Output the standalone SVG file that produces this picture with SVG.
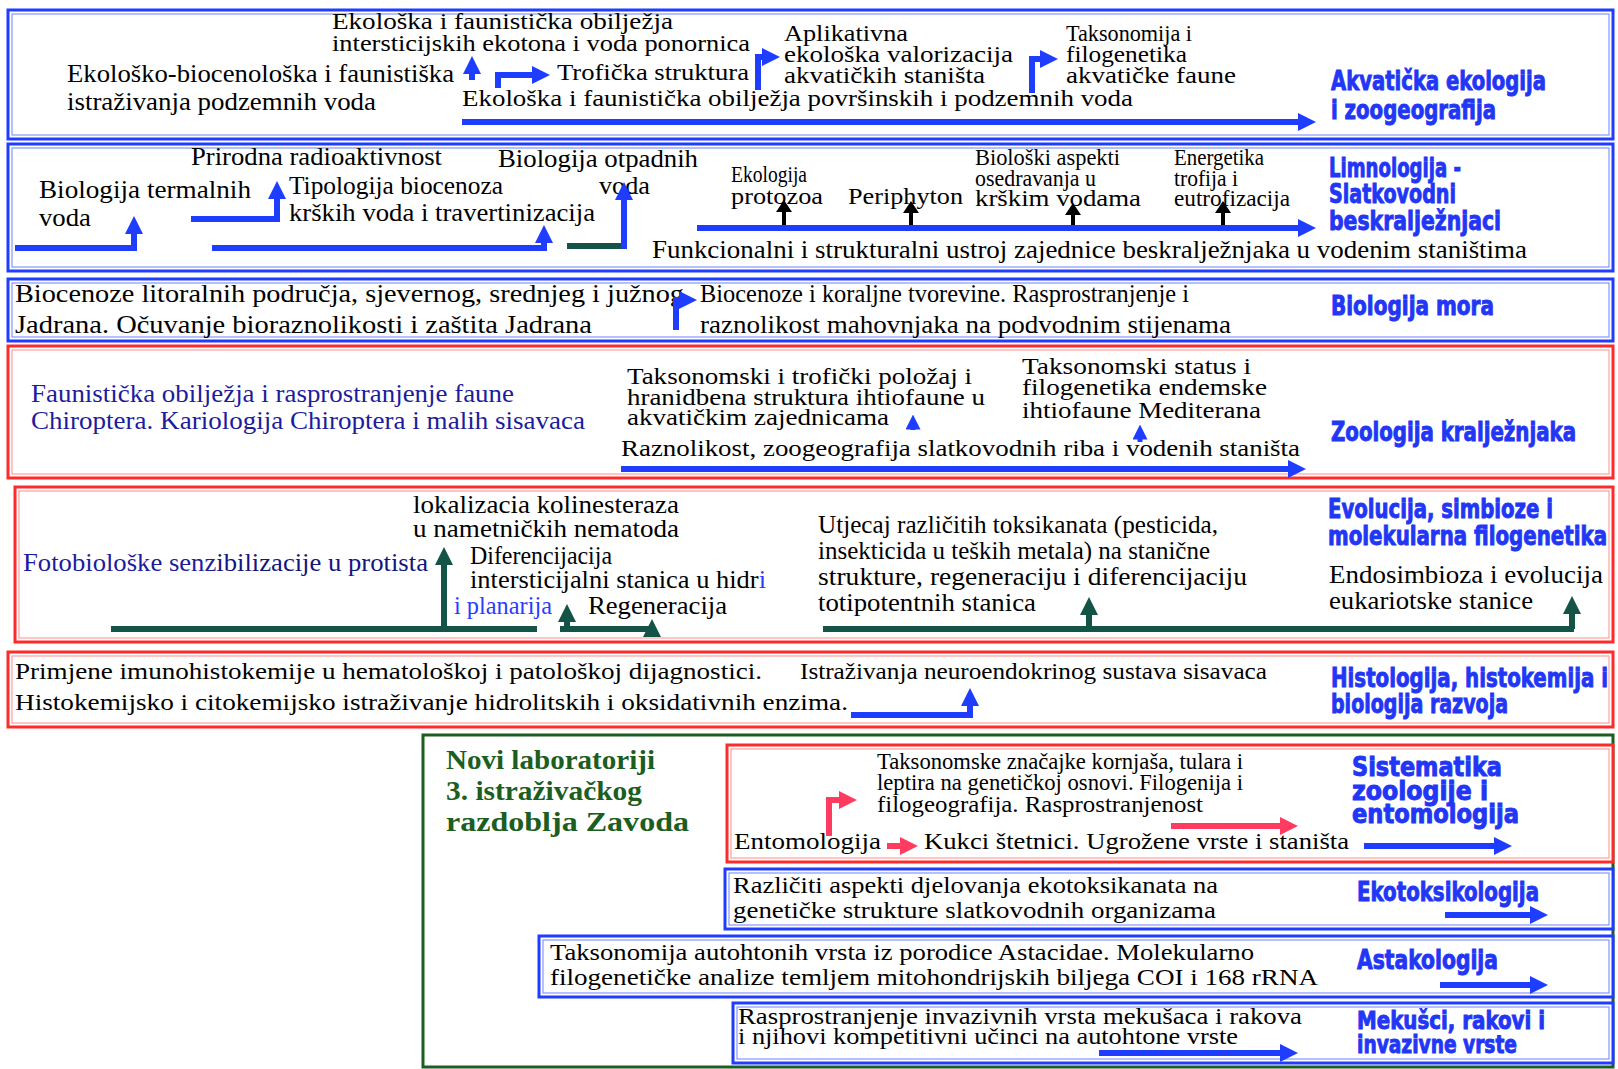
<svg xmlns="http://www.w3.org/2000/svg" width="1618" height="1069" viewBox="0 0 1618 1069">
<defs>
<style>
.t{font-family:"Liberation Serif","Times New Roman",serif;font-size:26px;fill:#000}
.s{font-size:24px}
.nv{fill:#1c1c9c}
.nv2{fill:#15157f}
.bl{fill:#2a3cff}
.h{font-family:"Liberation Sans Narrow","DejaVu Sans Condensed","Liberation Sans",sans-serif;font-weight:bold;font-size:27px;fill:#2236f5;stroke:#2236f5;stroke-width:0.9}
.g{font-family:"Liberation Serif","Times New Roman",serif;font-weight:bold;font-size:28px;fill:#1b5e20}
.bb{fill:#fff;stroke:#1f3dff;stroke-width:3}
.bi{fill:none;stroke:#8696ff;stroke-width:1.2}
.rb{fill:#fff;stroke:#ff2b2b;stroke-width:3}
.ri{fill:none;stroke:#ffa0a0;stroke-width:1.2}
.gb{fill:#fff;stroke:#1b5e20;stroke-width:3}
.ab{fill:none;stroke:#1f3dff;stroke-width:6;marker-end:url(#mb)}
.ag{fill:none;stroke:#135446;stroke-width:6;marker-end:url(#mg)}
.agn{fill:none;stroke:#135446;stroke-width:6}
.ar{fill:none;stroke:#ff3c5f;stroke-width:6;marker-end:url(#mr)}
.ak{fill:#000}
</style>
<marker id="mb" viewBox="0 0 3 3" markerWidth="3" markerHeight="3" refX="1.5" refY="1.5" orient="auto" markerUnits="strokeWidth"><path d="M0,0L3,1.5L0,3z" fill="#1f3dff"/></marker>
<marker id="mg" viewBox="0 0 3 3" markerWidth="3" markerHeight="3" refX="1.5" refY="1.5" orient="auto" markerUnits="strokeWidth"><path d="M0,0L3,1.5L0,3z" fill="#135446"/></marker>
<marker id="mr" viewBox="0 0 3 3" markerWidth="3" markerHeight="3" refX="1.5" refY="1.5" orient="auto" markerUnits="strokeWidth"><path d="M0,0L3,1.5L0,3z" fill="#ff3c5f"/></marker>
</defs>
<rect width="1618" height="1069" fill="#fff"/>

<g id="akvaticka">
<rect class="bb" x="8" y="10" width="1605" height="129"/>
<rect class="bi" x="12" y="14" width="1597" height="121"/>
<text class="t s" x="332" y="29" textLength="341" lengthAdjust="spacingAndGlyphs">Ekološka i faunistička obilježja</text>
<text class="t s" x="332" y="51" textLength="418" lengthAdjust="spacingAndGlyphs">intersticijskih ekotona i voda ponornica</text>
<text class="t" x="67" y="82" textLength="387" lengthAdjust="spacingAndGlyphs">Ekološko-biocenološka i faunistiška</text>
<text class="t" x="67" y="110" textLength="309" lengthAdjust="spacingAndGlyphs">istraživanja podzemnih voda</text>
<text class="t s" x="557" y="80" textLength="192" lengthAdjust="spacingAndGlyphs">Trofička struktura</text>
<text class="t s" x="784" y="41" textLength="124" lengthAdjust="spacingAndGlyphs">Aplikativna</text>
<text class="t s" x="784" y="62" textLength="229" lengthAdjust="spacingAndGlyphs">ekološka valorizacija</text>
<text class="t s" x="784" y="83" textLength="201" lengthAdjust="spacingAndGlyphs">akvatičkih staništa</text>
<text class="t s" x="1066" y="41" textLength="126" lengthAdjust="spacingAndGlyphs">Taksonomija i</text>
<text class="t s" x="1066" y="62" textLength="121" lengthAdjust="spacingAndGlyphs">filogenetika</text>
<text class="t s" x="1066" y="83" textLength="170" lengthAdjust="spacingAndGlyphs">akvatičke faune</text>
<text class="t s" x="462" y="106" textLength="671" lengthAdjust="spacingAndGlyphs">Ekološka i faunistička obilježja površinskih i podzemnih voda</text>
<text class="h" x="1331" y="90" textLength="215" lengthAdjust="spacingAndGlyphs">Akvatička ekologija</text>
<text class="h" x="1331" y="119" textLength="165" lengthAdjust="spacingAndGlyphs">i zoogeografija</text>
</g>

<g id="limnologija">
<rect class="bb" x="8" y="144" width="1605" height="127"/>
<rect class="bi" x="12" y="148" width="1597" height="119"/>
<text class="t" x="191" y="165" textLength="251" lengthAdjust="spacingAndGlyphs">Prirodna radioaktivnost</text>
<text class="t" x="498" y="167" textLength="200" lengthAdjust="spacingAndGlyphs">Biologija otpadnih</text>
<text class="t" x="599" y="194" textLength="51" lengthAdjust="spacingAndGlyphs">voda</text>
<text class="t" x="39" y="198" textLength="212" lengthAdjust="spacingAndGlyphs">Biologija termalnih</text>
<text class="t" x="39" y="226" textLength="52" lengthAdjust="spacingAndGlyphs">voda</text>
<text class="t" x="289" y="194" textLength="214" lengthAdjust="spacingAndGlyphs">Tipologija biocenoza</text>
<text class="t" x="289" y="221" textLength="306" lengthAdjust="spacingAndGlyphs">krških voda i travertinizacija</text>
<text class="t s" x="731" y="182" textLength="76" lengthAdjust="spacingAndGlyphs">Ekologija</text>
<text class="t s" x="731" y="204" textLength="92" lengthAdjust="spacingAndGlyphs">protozoa</text>
<text class="t s" x="848" y="204" textLength="115" lengthAdjust="spacingAndGlyphs">Periphyton</text>
<text class="t s" x="975" y="165" textLength="145" lengthAdjust="spacingAndGlyphs">Biološki aspekti</text>
<text class="t s" x="975" y="186" textLength="121" lengthAdjust="spacingAndGlyphs">osedravanja u</text>
<text class="t s" x="975" y="206" textLength="166" lengthAdjust="spacingAndGlyphs">krškim vodama</text>
<text class="t s" x="1174" y="165" textLength="90" lengthAdjust="spacingAndGlyphs">Energetika</text>
<text class="t s" x="1174" y="186" textLength="64" lengthAdjust="spacingAndGlyphs">trofija i</text>
<text class="t s" x="1174" y="206" textLength="116" lengthAdjust="spacingAndGlyphs">eutrofizacija</text>
<text class="t" x="652" y="258" textLength="875" lengthAdjust="spacingAndGlyphs">Funkcionalni i strukturalni ustroj zajednice beskralježnjaka u vodenim staništima</text>
<text class="h" x="1329" y="177" textLength="132" lengthAdjust="spacingAndGlyphs">Limnologija -</text>
<text class="h" x="1329" y="203" textLength="127" lengthAdjust="spacingAndGlyphs">Slatkovodni</text>
<text class="h" x="1329" y="230" textLength="172" lengthAdjust="spacingAndGlyphs">beskralježnjaci</text>
</g>

<g id="biologija-mora">
<rect class="bb" x="8" y="279" width="1605" height="62"/>
<rect class="bi" x="12" y="283" width="1597" height="54"/>
<text class="t" x="15" y="302" textLength="669" lengthAdjust="spacingAndGlyphs">Biocenoze litoralnih područja, sjevernog, srednjeg i južnog</text>
<text class="t" x="15" y="333" textLength="577" lengthAdjust="spacingAndGlyphs">Jadrana. Očuvanje bioraznolikosti i zaštita Jadrana</text>
<text class="t" x="700" y="302" textLength="489" lengthAdjust="spacingAndGlyphs">Biocenoze i koraljne tvorevine. Rasprostranjenje  i</text>
<text class="t" x="700" y="333" textLength="531" lengthAdjust="spacingAndGlyphs">raznolikost mahovnjaka na podvodnim stijenama</text>
<text class="h" x="1331" y="315" textLength="163" lengthAdjust="spacingAndGlyphs">Biologija mora</text>
</g>

<g id="zoologija-kraljeznjaka">
<rect class="rb" x="8" y="346" width="1605" height="132"/>
<rect class="ri" x="12" y="350" width="1597" height="124"/>
<text class="t nv" x="31" y="402" textLength="483" lengthAdjust="spacingAndGlyphs">Faunistička obilježja i rasprostranjenje faune</text>
<text class="t nv" x="31" y="429" textLength="554" lengthAdjust="spacingAndGlyphs">Chiroptera. Kariologija  Chiroptera i malih sisavaca</text>
<text class="t s" x="627" y="384" textLength="345" lengthAdjust="spacingAndGlyphs">Taksonomski i trofički položaj i</text>
<text class="t s" x="627" y="405" textLength="358" lengthAdjust="spacingAndGlyphs">hranidbena struktura ihtiofaune u</text>
<text class="t s" x="627" y="425" textLength="262" lengthAdjust="spacingAndGlyphs">akvatičkim zajednicama</text>
<text class="t s" x="1022" y="374" textLength="229" lengthAdjust="spacingAndGlyphs">Taksonomski status i</text>
<text class="t s" x="1022" y="395" textLength="245" lengthAdjust="spacingAndGlyphs">filogenetika endemske</text>
<text class="t s" x="1022" y="418" textLength="239" lengthAdjust="spacingAndGlyphs">ihtiofaune Mediterana</text>
<text class="t s" x="621" y="456" textLength="679" lengthAdjust="spacingAndGlyphs">Raznolikost, zoogeografija slatkovodnih riba i vodenih staništa</text>
<text class="h" x="1331" y="441" textLength="245" lengthAdjust="spacingAndGlyphs">Zoologija kralježnjaka</text>
</g>

<g id="evolucija">
<rect class="rb" x="15" y="487" width="1598" height="155"/>
<rect class="ri" x="19" y="491" width="1590" height="147"/>
<text class="t" x="413" y="513" textLength="266" lengthAdjust="spacingAndGlyphs">lokalizacia kolinesteraza</text>
<text class="t" x="413" y="537" textLength="266" lengthAdjust="spacingAndGlyphs">u nametničkih nematoda</text>
<text class="t" x="23" y="571" textLength="405" lengthAdjust="spacingAndGlyphs"><tspan class="nv">Fotobiološke senz</tspan><tspan class="nv2">ibilizacije u protista</tspan></text>
<text class="t" x="470" y="564" textLength="142" lengthAdjust="spacingAndGlyphs">Diferencijacija</text>
<text class="t" x="470" y="588" textLength="296" lengthAdjust="spacingAndGlyphs">intersticijalni stanica u hidr<tspan class="bl">i</tspan></text>
<text class="t bl" x="454" y="614" textLength="98" lengthAdjust="spacingAndGlyphs">i planarija</text>
<text class="t" x="588" y="614" textLength="139" lengthAdjust="spacingAndGlyphs">Regeneracija</text>
<text class="t" x="818" y="533" textLength="400" lengthAdjust="spacingAndGlyphs">Utjecaj različitih toksikanata (pesticida,</text>
<text class="t" x="818" y="559" textLength="392" lengthAdjust="spacingAndGlyphs">insekticida u teških metala) na stanične</text>
<text class="t" x="818" y="585" textLength="429" lengthAdjust="spacingAndGlyphs">strukture, regeneraciju i  diferencijaciju</text>
<text class="t" x="818" y="611" textLength="218" lengthAdjust="spacingAndGlyphs">totipotentnih stanica</text>
<text class="h" x="1328" y="518" textLength="225" lengthAdjust="spacingAndGlyphs">Evolucija, simbioze  i</text>
<text class="h" x="1328" y="545" textLength="279" lengthAdjust="spacingAndGlyphs">molekularna filogenetika</text>
<text class="t" x="1329" y="583" textLength="274" lengthAdjust="spacingAndGlyphs">Endosimbioza i evolucija</text>
<text class="t" x="1329" y="609" textLength="204" lengthAdjust="spacingAndGlyphs">eukariotske stanice</text>
</g>

<g id="histologija">
<rect class="rb" x="8" y="652" width="1605" height="75"/>
<rect class="ri" x="12" y="656" width="1597" height="67"/>
<text class="t s" x="15" y="679" textLength="747" lengthAdjust="spacingAndGlyphs">Primjene imunohistokemije u hematološkoj i patološkoj dijagnostici.</text>
<text class="t s" x="800" y="679" textLength="467" lengthAdjust="spacingAndGlyphs">Istraživanja neuroendokrinog sustava sisavaca</text>
<text class="t s" x="15" y="710" textLength="833" lengthAdjust="spacingAndGlyphs">Histokemijsko i citokemijsko istraživanje hidrolitskih i oksidativnih enzima.</text>
<text class="h" x="1331" y="687" textLength="277" lengthAdjust="spacingAndGlyphs">Histologija, histokemija i</text>
<text class="h" x="1331" y="713" textLength="177" lengthAdjust="spacingAndGlyphs">biologija razvoja</text>
</g>

<g id="novi-laboratoriji">
<rect class="gb" x="423" y="735" width="1190" height="332"/>
<text class="g" x="446" y="769" textLength="209" lengthAdjust="spacingAndGlyphs">Novi laboratoriji</text>
<text class="g" x="446" y="800" textLength="196" lengthAdjust="spacingAndGlyphs">3. istraživačkog</text>
<text class="g" x="446" y="831" textLength="243" lengthAdjust="spacingAndGlyphs">razdoblja Zavoda</text>
</g>

<g id="sistematika">
<rect class="rb" x="727" y="745" width="886" height="117"/>
<rect class="ri" x="731" y="749" width="878" height="109"/>
<text class="t s" x="877" y="769" textLength="366" lengthAdjust="spacingAndGlyphs">Taksonomske značajke kornjaša, tulara i</text>
<text class="t s" x="877" y="790" textLength="366" lengthAdjust="spacingAndGlyphs">leptira na genetičkoj osnovi. Filogenija i</text>
<text class="t s" x="877" y="812" textLength="326" lengthAdjust="spacingAndGlyphs">filogeografija. Rasprostranjenost</text>
<text class="t s" x="734" y="849" textLength="147" lengthAdjust="spacingAndGlyphs">Entomologija</text>
<text class="t s" x="924" y="849" textLength="425" lengthAdjust="spacingAndGlyphs">Kukci štetnici. Ugrožene vrste i staništa</text>
<text class="h" x="1352" y="776" textLength="150" lengthAdjust="spacingAndGlyphs" style="font-size:26px">Sistematika</text>
<text class="h" x="1352" y="800" textLength="136" lengthAdjust="spacingAndGlyphs" style="font-size:26px">zoologije i</text>
<text class="h" x="1352" y="823" textLength="167" lengthAdjust="spacingAndGlyphs" style="font-size:26px">entomologija</text>
</g>

<g id="ekotoksikologija">
<rect class="bb" x="725" y="869" width="888" height="60"/>
<rect class="bi" x="729" y="873" width="880" height="52"/>
<text class="t s" x="733" y="893" textLength="485" lengthAdjust="spacingAndGlyphs">Različiti aspekti djelovanja ekotoksikanata na</text>
<text class="t s" x="733" y="918" textLength="483" lengthAdjust="spacingAndGlyphs">genetičke strukture slatkovodnih organizama</text>
<text class="h" x="1357" y="901" textLength="182" lengthAdjust="spacingAndGlyphs">Ekotoksikologija</text>
</g>

<g id="astakologija">
<rect class="bb" x="539" y="936" width="1074" height="61"/>
<rect class="bi" x="543" y="940" width="1066" height="53"/>
<text class="t s" x="550" y="960" textLength="704" lengthAdjust="spacingAndGlyphs">Taksonomija  autohtonih vrsta iz porodice Astacidae. Molekularno</text>
<text class="t s" x="550" y="985" textLength="768" lengthAdjust="spacingAndGlyphs">filogenetičke analize temljem mitohondrijskih biljega COI i 168 rRNA</text>
<text class="h" x="1357" y="969" textLength="141" lengthAdjust="spacingAndGlyphs">Astakologija</text>
</g>

<g id="mekusci">
<rect class="bb" x="733" y="1003" width="880" height="60"/>
<rect class="bi" x="737" y="1007" width="872" height="52"/>
<text class="t s" x="738" y="1024" textLength="564" lengthAdjust="spacingAndGlyphs">Rasprostranjenje invazivnih vrsta mekušaca i rakova</text>
<text class="t s" x="738" y="1044" textLength="500" lengthAdjust="spacingAndGlyphs">i njihovi kompetitivni učinci na autohtone vrste</text>
<text class="h" x="1357" y="1029" textLength="188" lengthAdjust="spacingAndGlyphs" style="font-size:25px">Mekušci, rakovi  i</text>
<text class="h" x="1357" y="1053" textLength="160" lengthAdjust="spacingAndGlyphs" style="font-size:25px">invazivne vrste</text>
</g>

<g id="connectors">
<path class="ab" d="M472,80V65"/>
<path class="ab" d="M498,88V75H541"/>
<path class="ab" d="M758,90V57H771"/>
<path class="ab" d="M1032,93V59H1049"/>
<path class="ab" d="M462,122H1307"/>
<path class="ab" d="M15,248H134V225"/>
<path class="ab" d="M191,219H277V190"/>
<path class="ab" d="M212,248H544V234"/>
<path class="agn" d="M567,246H624"/>
<path class="ab" d="M624,249V191"/>
<path class="ab" d="M697,228H1307"/>
<path class="ak" d="M776,212L792,212L784,200z M782,212h4v13h-4z"/>
<path class="ak" d="M903,213L919,213L911,201z M909,213h4v12h-4z"/>
<path class="ak" d="M1065,215L1081,215L1073,203z M1071,215h4v10h-4z"/>
<path class="ak" d="M1215,213L1231,213L1223,201z M1221,213h4v12h-4z"/>
<path class="ab" d="M676,330V300H688"/>
<path class="ab" style="stroke-width:5" d="M913,430V422"/>
<path class="ab" style="stroke-width:5" d="M1140,442V432"/>
<path class="ab" d="M621,469H1297"/>
<path class="agn" d="M111,629H537"/>
<path class="ag" d="M444,629V556"/>
<path class="ag" d="M560,629H652V628"/>
<path class="ag" d="M567,629V613"/>
<path class="agn" d="M823,629H1574"/>
<path class="ag" d="M1089,629V606"/>
<path class="ag" d="M1572,629V605"/>
<path class="ab" d="M851,715H970V697"/>
<path class="ar" d="M829,836V800H848"/>
<path class="ar" d="M1171,826H1289"/>
<path class="ar" d="M887,846H909"/>
<path class="ab" d="M1364,846H1503"/>
<path class="ab" d="M1445,915H1539"/>
<path class="ab" d="M1440,985H1539"/>
<path class="ab" d="M1099,1053H1289"/>
</g>
</svg>
